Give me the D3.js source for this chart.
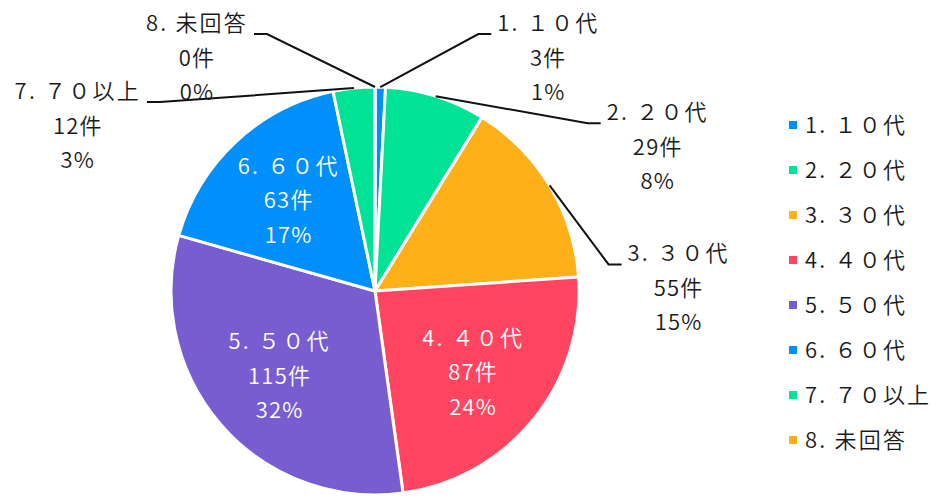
<!DOCTYPE html>
<html>
<head>
<meta charset="utf-8">
<script src="https://cdnjs.cloudflare.com/ajax/libs/d3/7.8.5/d3.min.js"></script>
<style>
  body { margin: 0; background: #fff; }
  svg text { font-family: "Noto Sans CJK JP", "Noto Sans", sans-serif; font-weight: 350; }
</style>
</head>
<body>
<div class="chart"></div>
<script>
// data
var categories = ["1. １０代", "2. ２０代", "3. ３０代", "4. ４０代", "5. ５０代", "6. ６０代", "7. ７０以上", "8. 未回答"];
var counts = [3, 29, 55, 87, 115, 63, 12, 0];
var colors = ["#008FFB", "#00E396", "#FEB019", "#FF4560", "#775DD0", "#008FFB", "#00E396", "#FEB019"];

// labels drawn outside with a leader line: [dx, dy] from slice edge to elbow
var outside = {
    0: [98, -53],
    1: [152, 27],
    2: [59, 79],
    6: [-194, 14],
    7: [-108, -53]
};

var width = 941, height = 499;
var cx = 375, cy = 291, radius = 204;
var fontSize = 22, lineH = 34.5;
var nameSpacing = 2.2, numSpacing = 1.2;

var svg = d3.select(".chart")
    .append("svg")
    .attr("width", width)
    .attr("height", height);

var total = d3.sum(counts);
var data = categories.map(function(c, i) {
    return { name: c, value: counts[i], color: colors[i], idx: i };
});

var pie = d3.pie().sort(null).value(function(d) { return d.value; });
var arc = d3.arc().innerRadius(0).outerRadius(radius);
var labelArc = d3.arc().innerRadius(radius * 0.62).outerRadius(radius * 0.62);
var edgeArc = d3.arc().innerRadius(radius).outerRadius(radius);

var arcs = pie(data);

var g = svg.append("g").attr("transform", "translate(" + cx + "," + cy + ")");

g.selectAll("path.slice")
    .data(arcs)
    .enter()
    .append("path")
    .attr("class", "slice")
    .attr("d", arc)
    .attr("fill", function(d) { return d.data.color; })
    .attr("stroke", "#fff")
    .attr("stroke-width", 3)
    .attr("stroke-linejoin", "round");

function lines(d) {
    return [d.data.name, d.data.value + "件", Math.round(d.data.value / total * 100) + "%"];
}

// inside labels
arcs.forEach(function(d) {
    if (outside[d.data.idx]) return;
    var c = labelArc.centroid(d);
    var t = g.append("text")
        .attr("text-anchor", "middle")
        .attr("fill", "#fff")
        .style("font-size", fontSize + "px");
    lines(d).forEach(function(s, k) {
        t.append("tspan")
            .attr("x", c[0])
            .attr("y", c[1] + (k - 1) * lineH + 2)
            .attr("dy", "0.35em")
            .style("letter-spacing", (k === 0 ? nameSpacing : numSpacing) + "px")
            .text(s);
    });
});

// outside labels with leader lines
arcs.forEach(function(d) {
    var off = outside[d.data.idx];
    if (!off) return;
    var p0 = edgeArc.centroid(d);
    var p1 = [p0[0] + off[0], p0[1] + off[1]];
    var dir = off[0] > 0 ? 1 : -1;
    var p2 = [p1[0] + dir * 13, p1[1]];
    g.append("polyline")
        .attr("points", [p0, p1, p2].map(function(p) { return p.join(","); }).join(" "))
        .attr("fill", "none")
        .attr("stroke", "#111")
        .attr("stroke-width", 2);

    var t = g.append("text")
        .attr("text-anchor", "middle")
        .attr("fill", "#1a1a1a")
        .style("font-size", fontSize + "px");
    var ls = lines(d);
    var first = t.append("tspan").style("letter-spacing", nameSpacing + "px").text(ls[0]);
    var w = first.node().getComputedTextLength();
    var mx = dir > 0 ? p2[0] + 6 + w / 2 : p2[0] - 6 - w / 2;
    ls.forEach(function(s, k) {
        var sp = k === 0 ? first : t.append("tspan").style("letter-spacing", numSpacing + "px").text(s);
        sp.attr("x", mx).attr("y", p1[1] - 3 + k * lineH);
    });
});

// legend
var legend = svg.append("g").attr("transform", "translate(789,125)");
var items = legend.selectAll("g.item")
    .data(data)
    .enter()
    .append("g")
    .attr("class", "item")
    .attr("transform", function(d, i) { return "translate(0," + i * 45 + ")"; });

items.append("rect")
    .attr("x", 0)
    .attr("y", -4)
    .attr("width", 8)
    .attr("height", 8)
    .attr("fill", function(d) { return d.color; });

items.append("text")
    .attr("x", 16)
    .attr("y", 0)
    .attr("dy", "0.35em")
    .attr("fill", "#1a1a1a")
    .style("font-size", fontSize + "px")
    .style("letter-spacing", nameSpacing + "px")
    .text(function(d) { return d.name; });
</script>
</body>
</html>
